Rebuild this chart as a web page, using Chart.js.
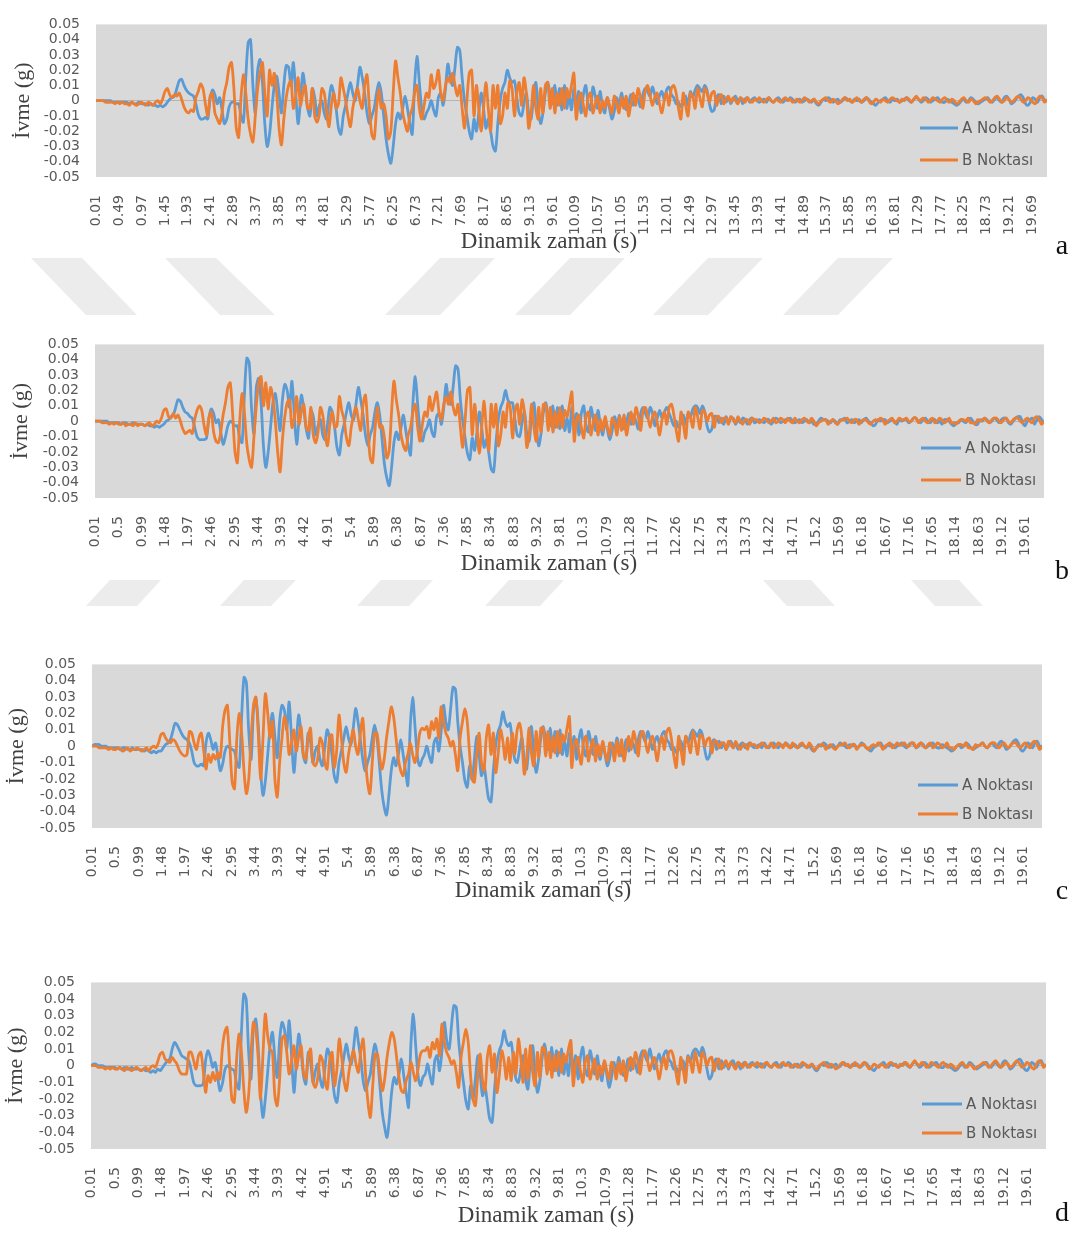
<!DOCTYPE html>
<html>
<head>
<meta charset="utf-8">
<script src="https://cdn.jsdelivr.net/npm/chart.js@4.4.1/dist/chart.umd.min.js"></script>
<style>
  html, body { margin:0; padding:0; background:#ffffff; }
  #page { position:relative; width:1078px; height:1233px; overflow:hidden; background:#fff; }
  #page canvas { position:absolute; left:0; display:block; }
  .xt { position:absolute; font-family:"Liberation Serif", "DejaVu Serif", serif; font-size:23px; color:#404040; white-space:nowrap; transform:translate(-50%,-50%); }
  .lt { position:absolute; font-family:"Liberation Serif", "DejaVu Serif", serif; font-size:28px; color:#111; transform:translate(-50%,-50%); }
  #wm { position:absolute; left:0; top:0; }
</style>
</head>
<body>
<div id="page">
<svg id="wm" width="1078" height="1233">
  <g fill="#ececec">
    <polygon points="31,258 82,258 137,315 86,315"/>
    <polygon points="165,258 216,258 275,315 220,315"/>
    <polygon points="440,258 495,258 440,315 385,315"/>
    <polygon points="570,258 625,258 570,315 515,315"/>
    <polygon points="708,258 763,258 708,315 653,315"/>
    <polygon points="838,258 893,258 838,315 783,315"/>
    <polygon points="110,580 161,580 137,606 86,606"/>
    <polygon points="244,580 296,580 271,606 220,606"/>
    <polygon points="381,580 433,580 409,606 357,606"/>
    <polygon points="509,580 564,580 540,606 485,606"/>
    <polygon points="763,580 811,580 835,606 787,606"/>
    <polygon points="911,580 959,580 983,606 935,606"/>
  </g>
</svg>
</div>
<script>
// ---------------- DATA (acceleration, in milli-g, one sample every 0.05 s from 0 s to 20 s) ----------------
const SAMPLE_STEP = 0.05;          // seconds between read-off samples
const MILLI = 1000;                // arrays are in 0.001 g

const seriesNames = ["A Noktası", "B Noktası"];
const xTitle = "Dinamik zaman (s)";
const yTitle = "İvme (g)";
const panelLetters = ["a", "b", "c", "d"];

const yTickValues = [-0.05, -0.04, -0.03, -0.02, -0.01, 0, 0.01, 0.02, 0.03, 0.04, 0.05];
const yTickLabels = ["-0.05", "-0.04", "-0.03", "-0.02", "-0.01", "0", "0.01", "0.02", "0.03", "0.04", "0.05"];

const xTickLabelsA = ["0.01","0.49","0.97","1.45","1.93","2.41","2.89","3.37","3.85","4.33","4.81","5.29","5.77","6.25","6.73","7.21","7.69","8.17","8.65","9.13","9.61","10.09","10.57","11.05","11.53","12.01","12.49","12.97","13.45","13.93","14.41","14.89","15.37","15.85","16.33","16.81","17.29","17.77","18.25","18.73","19.21","19.69"];
const xTickLabelsBCD = ["0.01","0.5","0.99","1.48","1.97","2.46","2.95","3.44","3.93","4.42","4.91","5.4","5.89","6.38","6.87","7.36","7.85","8.34","8.83","9.32","9.81","10.3","10.79","11.28","11.77","12.26","12.75","13.24","13.73","14.22","14.71","15.2","15.69","16.18","16.67","17.16","17.65","18.14","18.63","19.12","19.61"];

// Panel a
const panelA_A = [
0,0,0,0,0,0,0,-1,-1,-1,-1,-1,-1,-1,-2,-1,-2,-2,-1,-2,
-2,-2,-3,-2,-3,-3,-4,-3,-4,-3,-1,1,2,3,8,13,14,10,7,5,
4,3,-2,-9,-12,-12,-11,-12,1,7,4,-2,2,-6,-15,-12,-4,-1,-1,-2,
-2,-10,-14,15,38,40,10,-8,20,27,12,-15,-30,-22,-5,10,16,5,-8,10,
23,22,10,25,5,-15,0,18,8,-5,-10,8,2,-10,-3,0,-8,-12,0,10,
5,-5,-18,-22,-10,-3,5,12,5,0,10,22,15,5,-8,-15,-10,-5,5,12,
5,-10,-25,-35,-41,-30,-15,-8,-12,-5,3,-5,-15,-22,10,29,12,-5,-12,-8,
-5,0,-6,-10,2,5,-3,8,24,15,10,22,35,33,15,0,-10,-20,-25,-12,
-20,-8,5,-5,-18,-12,-20,-30,-33,-15,0,8,12,20,15,12,13,2,-8,-10,
-2,5,-8,-12,2,12,-5,-15,-8,5,12,4,-2,10,-3,8,-6,10,-5,3,
-6,8,-3,6,-8,4,10,-2,-6,9,3,-5,6,-3,-8,2,-5,-12,-7,2,
-4,5,-2,-6,-2,4,-3,3,1,-4,4,8,6,3,9,4,-2,3,6,1,
7,9,4,2,-2,-1,-4,-2,3,-3,6,2,7,10,8,6,10,7,-2,-7,
-6,2,4,-2,3,-1,2,-2,1,3,-1,2,-2,1,2,-1,1,2,0,-1,
0,1,-1,2,0,-1,1,2,0,-1,1,0,2,1,-1,0,1,-1,0,1,
0,-1,1,-2,-3,-1,1,0,2,1,-1,0,1,-1,0,2,1,0,-1,1,
0,1,-1,0,2,1,-1,-2,-3,-1,0,1,2,0,-1,1,0,1,-1,0,
1,2,0,-1,1,2,1,-1,0,2,1,-1,0,1,2,0,-1,-1,1,0,
-1,-2,-3,-2,0,1,-1,0,2,1,-1,-2,-1,0,1,2,0,-1,1,2,
0,-1,2,3,1,-2,-1,1,3,4,2,-2,-3,-1,2,1,-1,2,3,0,
0];
const panelA_B = [
0,0,0,0,-1,-1,-1,-1,-2,-1,-2,-1,-2,-2,-3,-1,-2,-3,-2,-1,
-2,-3,-1,-2,-3,-1,0,-2,1,6,8,4,2,4,3,5,1,-4,-7,-8,
-6,-7,2,6,11,8,-2,-10,3,5,-8,-12,-15,-8,5,12,22,25,8,-18,
-24,2,17,5,-12,-22,-27,-10,8,18,25,5,-10,20,10,18,5,-18,-29,-12,
2,10,13,-5,3,15,-3,5,10,-5,-5,8,-10,-14,-8,8,5,-8,-17,-3,
5,-5,-2,15,8,0,-10,-17,-5,3,8,0,-5,10,17,-5,-22,-25,-5,8,
-5,-2,-10,-25,-20,5,26,15,5,-8,-15,-20,-10,-5,5,10,-5,-12,-3,5,
2,17,8,12,20,5,0,10,15,12,18,10,3,10,-5,-18,0,18,20,-10,
10,-5,-20,-5,12,-5,-20,10,-5,10,-15,-10,5,-5,13,8,-10,5,12,-3,
15,5,-18,-8,10,-5,-12,8,-8,10,12,-5,8,-8,5,-3,8,-5,8,2,
10,18,-12,0,5,-3,-10,2,5,-8,-2,3,-8,0,-5,2,-3,-8,3,-2,
-8,2,-5,3,-10,-2,5,-3,8,2,-5,6,10,4,-3,2,5,-2,-8,0,
5,-3,8,10,5,-5,-12,5,-3,-10,5,3,-5,8,2,-4,8,5,-1,5,
6,-3,2,4,-2,1,3,-1,2,0,-2,2,1,-1,2,0,-1,1,0,2,
0,-1,1,2,0,-1,1,0,-1,1,2,0,1,-1,0,1,-1,0,2,1,
-1,0,1,-1,-2,0,1,2,0,-1,1,0,-2,-1,1,2,0,1,-1,0,
2,0,-1,1,2,0,-2,-1,1,0,-1,1,0,-1,1,2,1,0,-1,1,
0,2,1,-1,1,3,1,0,2,1,-1,0,2,1,0,-1,1,2,0,-1,
1,0,-2,-1,1,2,0,-1,1,0,-2,-1,0,1,2,1,-1,0,2,3,
1,-1,0,2,1,-1,0,2,3,1,-1,0,2,1,-1,-2,1,3,2,-1,
1];

// Panel b
const panelB_A = [
0,0,0,0,0,0,-1,-1,-1,-1,-1,-2,-1,-1,-2,-2,-1,-2,-2,-2,
-2,-3,-2,-3,-3,-4,-3,-4,-3,-2,0,1,3,4,9,14,13,9,6,5,
3,2,-4,-10,-12,-12,-12,-11,2,8,5,-1,1,-7,-15,-10,-3,0,-1,-3,
-3,-11,-14,18,41,38,8,-8,22,28,12,-16,-30,-20,-4,12,18,6,-6,14,
24,20,9,26,4,-15,2,17,8,-5,-11,7,3,-9,-3,1,-9,-12,-2,9,
6,-4,-17,-22,-9,-2,6,12,4,1,11,22,14,4,-9,-16,-9,-4,6,12,
4,-12,-28,-37,-42,-30,-14,-7,-12,-4,4,-6,-16,-22,12,29,11,-6,-13,-7,
-4,1,-7,-10,3,5,-2,9,24,14,11,23,36,34,14,0,-11,-21,-25,-11,
-19,-7,6,-4,-17,-12,-21,-31,-33,-14,1,9,13,20,14,12,12,1,-9,-10,
-1,6,-8,-13,3,12,-4,-16,-8,6,12,3,-3,10,-4,9,-5,10,-6,2,
-7,9,-2,5,-9,5,10,-3,-7,9,2,-6,7,-2,-9,1,-6,-12,-6,3,
-3,4,-3,-5,-1,5,-2,4,0,-5,5,9,5,2,9,5,-3,2,7,2,
6,9,5,1,-3,0,-4,-1,4,-2,5,3,8,10,9,5,10,6,-3,-7,
-5,3,3,-1,2,-2,3,-1,2,2,-2,1,-1,2,1,-2,1,2,-1,0,
1,0,-1,1,1,-2,0,2,1,-1,0,1,1,2,0,-1,0,1,-1,0,
1,-1,0,-2,-2,0,2,1,1,0,-1,1,0,-2,1,1,2,-1,0,1,
-1,0,1,-1,1,2,0,-1,-3,-2,1,0,1,1,-1,0,1,0,-2,1,
0,1,1,-1,0,2,2,0,-1,1,2,0,-1,1,1,-1,0,-2,1,1,
0,-2,-3,-1,-1,1,0,-1,1,2,0,-2,-2,1,0,2,1,-1,0,2,
1,-1,1,2,2,-1,-2,0,2,3,3,-1,-3,0,1,2,-2,1,3,1,
-1];
const panelB_B = [
0,0,0,-1,-1,-1,-2,-1,-2,-1,-2,-2,-1,-3,-2,-2,-3,-1,-3,-2,
-2,-3,-2,-1,-3,-2,0,-1,2,7,8,3,2,5,2,4,0,-5,-8,-7,
-6,-8,1,7,10,7,-3,-9,2,6,-7,-13,-14,-7,4,12,22,25,5,-20,
-27,0,18,5,-15,-25,-30,-10,10,25,29,10,25,8,22,15,0,-20,-33,-12,
3,12,14,-4,2,16,-2,6,11,-4,-6,9,-9,-14,-7,9,4,-9,-16,-2,
6,-4,-3,16,7,1,-11,-16,-4,4,9,1,-6,11,17,-4,-24,-27,-6,9,
-4,-3,-11,-24,-19,6,26,14,4,-9,-16,-19,-9,-4,6,11,-4,-13,-2,6,
3,16,7,13,19,6,1,11,16,11,19,9,4,11,-4,-17,1,20,22,-9,
11,-4,-21,-4,13,-6,-19,11,-4,11,-16,-9,6,-4,12,9,-11,6,11,-2,
14,6,-17,-9,11,-4,-13,9,-7,11,11,-6,9,-7,6,-4,9,-4,7,3,
11,19,-13,1,4,-4,-11,3,6,-9,-1,4,-9,1,-6,3,-4,-9,2,-1,
-9,3,-6,4,-9,-1,6,-2,9,3,-6,7,9,3,-4,3,6,-1,-9,1,
6,-2,9,11,4,-6,-13,6,-2,-11,6,2,-4,9,3,-5,7,6,0,4,
5,-4,3,3,-1,2,2,-2,3,1,-1,3,0,-2,1,1,-2,2,1,1,
-1,0,2,1,-1,0,2,-1,0,2,1,-1,2,0,-1,2,0,-1,1,2,
0,-1,2,0,-3,-1,0,1,1,-2,0,1,-1,-2,0,1,1,2,0,-1,
1,1,-2,0,1,1,-1,-2,0,1,0,2,1,-2,0,1,2,-1,0,2,
1,1,2,0,0,2,2,-1,1,2,0,-1,1,2,-1,0,2,1,-1,0,
2,-1,-1,-2,0,1,1,0,2,-1,-1,-2,1,0,1,2,0,-1,1,2,
2,0,-1,1,2,0,-1,1,2,2,0,-1,1,2,0,-1,2,3,1,-2,
0];

// Panel c
const panelC_A = [
0,1,1,1,0,0,0,-1,-1,-1,-1,-1,-2,-1,-1,-2,-2,-1,-2,-2,
-2,-2,-3,-2,-3,-4,-3,-4,-3,-3,-1,1,2,4,9,14,13,10,7,5,
4,2,-3,-10,-12,-12,-11,-12,2,8,4,-2,2,-6,-15,-11,-3,0,-1,-2,
-3,-10,-13,18,42,39,9,-8,22,29,13,-15,-30,-21,-5,11,20,6,-7,15,
25,22,10,27,5,-16,1,19,9,-6,-10,8,3,-10,-3,0,-8,-12,-1,10,
5,-5,-18,-22,-10,-3,5,12,5,1,11,23,15,4,-8,-15,-10,-5,5,13,
5,-11,-27,-37,-42,-30,-15,-7,-12,-5,4,-5,-15,-24,12,30,12,-6,-12,-8,
-5,0,-6,-10,2,5,-3,9,25,15,10,23,36,35,15,0,-10,-21,-25,-12,
-20,-8,6,-5,-18,-12,-22,-32,-34,-15,1,9,13,21,15,12,14,2,-8,-10,
-2,5,-8,-14,2,12,-5,-16,-8,5,12,4,-2,11,-3,9,-6,10,-5,3,
-6,8,-3,6,-8,4,10,-2,-6,9,3,-5,6,-3,-8,2,-5,-12,-7,2,
-4,5,-2,-6,-2,4,-3,3,1,-4,4,9,6,3,9,4,-2,3,6,1,
7,9,4,2,-2,-1,-4,-2,3,-3,6,2,7,10,8,6,10,7,-2,-8,
-6,2,4,-2,3,-1,2,-2,1,3,-1,2,-2,1,2,-1,1,2,0,-1,
0,1,-1,2,0,-1,1,2,0,-1,1,0,2,1,-1,0,1,-1,0,1,
0,-1,1,-2,-3,-1,1,0,2,1,-1,0,1,-1,0,2,1,0,-1,1,
0,1,-1,0,2,1,-1,-2,-3,-1,0,1,2,0,-1,1,0,1,-1,0,
1,2,0,-1,1,2,1,-1,0,2,1,-1,0,1,2,0,-1,-1,1,0,
-1,-2,-3,-2,0,1,-1,0,2,1,-1,-2,-1,0,1,2,0,-1,1,2,
0,-1,2,3,1,-2,-1,1,3,4,2,-2,-3,-1,2,1,-1,2,3,0,
0];
const panelC_B = [
0,0,0,-1,-1,-1,-1,-2,-1,-2,-2,-1,-2,-3,-2,-1,-3,-2,-2,-1,
-2,-3,-2,-1,-3,-1,0,-1,2,7,8,5,3,2,4,3,0,-3,-5,-6,
-5,9,8,2,-2,5,8,-2,-14,-5,-10,-5,-8,-4,-7,12,22,25,3,-22,
-26,5,20,8,-15,-29,-20,5,25,30,8,-20,5,32,20,5,15,-20,-31,-10,
5,18,12,-5,2,10,-3,5,12,-5,-8,5,11,-10,-12,-8,5,2,-10,-14,
5,7,-13,-3,19,5,-10,-16,-5,3,10,0,-5,8,17,-5,-22,-29,-10,8,
8,-5,-14,-8,5,15,24,18,5,-8,-15,-18,-10,-5,2,-5,-10,-3,8,11,
10,12,5,15,10,17,5,24,15,8,5,0,3,-5,-15,5,15,23,15,-5,
-20,-22,-5,8,-10,-15,5,13,-5,8,-16,-5,10,3,-8,5,-10,8,-5,10,
14,5,-17,-8,11,-4,-12,9,-7,11,11,-6,9,-7,6,-4,9,-4,7,3,
11,18,-13,1,4,-4,-11,3,6,-9,-1,4,-9,1,-6,3,-4,-9,2,-1,
-9,3,-6,4,-9,-1,6,-2,9,3,-6,7,9,3,-4,3,6,-1,-9,1,
6,-2,9,11,4,-6,-13,6,-2,-11,6,2,-4,9,3,-5,7,6,0,4,
5,-4,3,3,-1,2,2,-2,3,1,-1,3,0,-2,1,1,-2,2,1,1,
-1,0,2,1,-1,0,2,-1,0,2,1,-1,2,0,-1,2,0,-1,1,2,
0,-1,2,0,-3,-1,0,1,1,-2,0,1,-1,-2,0,1,1,2,0,-1,
1,1,-2,0,1,1,-1,-2,0,1,0,2,1,-2,0,1,2,-1,0,2,
1,1,2,0,0,2,2,-1,1,2,0,-1,1,2,-1,0,2,1,-1,0,
2,-1,-1,-2,0,1,1,0,2,-1,-1,-2,1,0,1,2,0,-1,1,2,
2,0,-1,1,2,0,-1,1,2,2,0,-1,1,2,0,-1,2,3,1,-2,
0];

// Panel d
const panelD_A = [
0,1,1,0,0,0,-1,-1,-1,-1,-1,-2,-1,-2,-1,-2,-2,-1,-2,-2,
-2,-3,-2,-3,-3,-4,-3,-4,-2,-3,-1,1,3,4,10,14,12,9,6,5,
4,3,-3,-10,-12,-12,-12,-11,3,9,5,-1,2,-6,-15,-11,-3,0,-1,-2,
-3,-11,-14,20,43,40,9,-8,22,28,12,-16,-31,-20,-4,12,20,5,-7,15,
26,22,10,27,6,-16,2,19,8,-6,-11,8,2,-10,-3,1,-8,-13,-1,10,
6,-5,-18,-22,-10,-3,6,13,5,1,11,23,14,4,-9,-15,-10,-5,6,13,
5,-12,-28,-37,-43,-31,-15,-7,-11,-5,4,-6,-16,-25,13,31,12,-6,-12,-7,
-5,1,-6,-11,3,6,-3,9,26,15,10,24,36,35,15,1,-10,-21,-26,-12,
-20,-8,6,-5,-18,-13,-22,-32,-34,-15,1,9,13,21,15,12,14,2,-8,-10,
-2,6,-8,-14,3,12,-5,-16,-9,5,13,4,-2,11,-3,9,-6,10,-5,3,
-6,9,-3,6,-8,5,11,-2,-6,9,3,-5,6,-3,-9,2,-5,-13,-7,2,
-4,5,-2,-6,-2,4,-3,4,1,-4,5,9,6,3,10,4,-2,3,7,1,
7,9,4,2,-2,-1,-4,-2,3,-3,6,2,8,10,9,6,11,7,-2,-8,
-6,2,4,-2,3,-1,2,-2,2,3,-1,2,-2,1,2,-1,1,2,0,-1,
1,1,-1,2,0,-1,1,2,0,-1,1,0,2,1,-1,0,1,-1,0,1,
0,-1,1,-2,-3,-1,1,0,2,1,-1,0,1,-1,0,2,1,0,-1,1,
0,1,-1,0,2,1,-1,-2,-3,-1,0,1,2,0,-1,1,0,1,-1,0,
1,2,0,-1,1,2,1,-1,0,2,1,-1,0,1,2,0,-1,-1,1,0,
-1,-2,-3,-2,0,1,-1,0,2,1,-1,-2,-1,0,1,2,0,-1,1,2,
0,-1,2,3,1,-2,-1,1,3,4,2,-2,-3,-1,2,1,-1,2,3,0,
0];
const panelD_B = [
0,0,0,-1,-1,-1,-2,-1,-2,-1,-2,-2,-1,-2,-3,-1,-2,-3,-2,-1,
-2,-3,-2,-1,-3,-1,0,-1,3,7,8,4,3,2,5,3,1,-3,-5,-5,
-5,8,8,3,-2,6,8,-3,-16,-6,-10,-4,-9,-4,-8,10,20,23,2,-20,
-22,4,19,8,-14,-28,-18,6,26,22,5,-20,6,31,18,10,8,-18,-24,-8,
16,18,8,-5,3,12,-2,6,12,-4,-8,5,10,-10,-13,-7,6,3,-9,-14,
4,8,-12,-2,16,5,-9,-15,-4,4,9,1,-4,9,16,-5,-22,-31,-12,7,
7,-5,-15,-8,5,14,20,16,5,-7,-15,-16,-9,-5,2,-4,-9,-2,7,9,
9,11,5,14,10,16,6,25,14,8,5,1,3,-4,-13,5,14,22,14,-6,
-20,-24,-6,7,-9,-15,5,12,-4,7,-16,-6,9,3,-8,5,-9,8,-5,16,
5,-10,10,-8,12,-4,-12,8,-7,11,10,-5,8,-7,6,-3,8,-4,7,2,
10,15,-12,1,5,-3,-10,2,6,-8,-2,4,-8,0,-5,3,-3,-8,2,-1,
-8,2,-5,3,-9,-1,5,-2,8,3,-5,6,9,4,-3,2,5,-1,-8,0,
5,-2,8,9,5,-4,-11,5,-2,-10,5,3,-4,8,2,-4,8,5,0,4,
5,-3,2,4,-2,1,3,-1,2,0,-2,2,1,-1,2,0,-1,1,0,2,
0,-1,1,2,0,-1,1,0,-1,1,2,0,1,-1,0,1,-1,0,2,1,
-1,0,1,-1,-2,0,1,2,0,-1,1,0,-2,-1,1,2,0,1,-1,0,
2,0,-1,1,2,0,-2,-1,1,0,-1,1,0,-1,1,2,1,0,-1,1,
0,2,1,-1,1,3,1,0,2,1,-1,0,2,1,0,-1,1,2,0,-1,
1,0,-2,-1,1,2,0,-1,1,0,-2,-1,0,1,2,1,-1,0,2,3,
1,-1,0,2,1,-1,0,2,3,1,-1,0,2,1,-1,-2,1,3,2,-1,
1];

// ---------------- LAYOUT (positions only) ----------------
const panels = [
  { seriesA: panelA_A, seriesB: panelA_B, ticks: xTickLabelsA,   top: 0,   h: 260, pl: 96, pt: 11, pr: 1047, pb: 177, yPad: 10, tx: 549, ty: 241,  ly: 245,  leg: [920, 958, 962, 128, 160] },
  { seriesA: panelB_A, seriesB: panelB_B, ticks: xTickLabelsBCD, top: 320, h: 260, pl: 95, pt: 12, pr: 1044, pb: 178, yPad: 8,  tx: 549, ty: 563,  ly: 570,  leg: [921, 961, 965, 128, 160] },
  { seriesA: panelC_A, seriesB: panelC_B, ticks: xTickLabelsBCD, top: 640, h: 265, pl: 92, pt: 11, pr: 1042, pb: 188, yPad: 4,  tx: 543, ty: 890,  ly: 890,  leg: [918, 958, 962, 145, 174] },
  { seriesA: panelD_A, seriesB: panelD_B, ticks: xTickLabelsBCD, top: 958, h: 270, pl: 91, pt: 11, pr: 1046, pb: 191, yPad: 3,  tx: 546, ty: 1215, ly: 1212, leg: [922, 962, 966, 146, 175] }
];

const plotBg = {
  id: 'plotBg',
  beforeDraw(chart) {
    const { ctx, chartArea: a } = chart;
    ctx.save();
    ctx.fillStyle = '#d9d9d9';
    ctx.fillRect(a.left, a.top, a.right - a.left, a.bottom - a.top);
    ctx.restore();
  }
};

const innerLegend = {
  id: 'innerLegend',
  afterDraw(chart, args, opts) {
    const { ctx } = chart;
    const [x0, x1, tx, y0, y1] = opts.pos;
    ctx.save();
    ctx.font = '15px "DejaVu Sans"';
    ctx.textBaseline = 'middle';
    ctx.textAlign = 'left';
    chart.data.datasets.forEach((ds, i) => {
      const y = i === 0 ? y0 : y1;
      ctx.strokeStyle = ds.borderColor;
      ctx.lineWidth = 2.8;
      ctx.beginPath(); ctx.moveTo(x0, y); ctx.lineTo(x1, y); ctx.stroke();
      ctx.fillStyle = '#595959';
      ctx.fillText(ds.label, tx, y + 1);
    });
    ctx.restore();
  }
};

const page = document.getElementById('page');

panels.forEach((P, pi) => {
  const canvas = document.createElement('canvas');
  canvas.width = 1078; canvas.height = P.h;
  canvas.style.top = P.top + 'px';
  canvas.style.width = '1078px'; canvas.style.height = P.h + 'px';
  page.appendChild(canvas);

  const tickValues = P.ticks.map(s => parseFloat(s));
  const toPoints = arr => arr.map((v, k) => ({ x: +(k * SAMPLE_STEP).toFixed(2), y: v / MILLI }));

  new Chart(canvas, {
    type: 'line',
    data: {
      datasets: [
        { label: seriesNames[0], data: toPoints(P.seriesA), borderColor: '#5b9bd5', borderWidth: 2.8, pointRadius: 0, tension: 0.3, order: 1, fill: false },
        { label: seriesNames[1], data: toPoints(P.seriesB), borderColor: '#ed7d31', borderWidth: 2.8, pointRadius: 0, tension: 0.3, order: 0, fill: false }
      ]
    },
    options: {
      responsive: false,
      animation: false,
      events: [],
      layout: { padding: { top: P.pt, right: 1078 - P.pr, left: 0, bottom: 0 } },
      plugins: {
        legend: { display: false },
        tooltip: { enabled: false },
        innerLegend: { pos: P.leg }
      },
      scales: {
        x: {
          type: 'linear', min: 0, max: 20,
          afterBuildTicks: s => { s.ticks = tickValues.map(v => ({ value: v })); },
          afterFit: s => { s.height = P.h - P.pb; },
          grid: { display: false },
          border: { display: false },
          ticks: {
            autoSkip: false, minRotation: 90, maxRotation: 90, padding: 10,
            font: { family: 'DejaVu Sans', size: 14 }, color: '#595959',
            callback: (v, k) => P.ticks[k]
          }
        },
        y: {
          min: -0.05, max: 0.05,
          afterBuildTicks: s => { s.ticks = yTickValues.map(v => ({ value: v })); },
          afterFit: s => { s.width = P.pl; },
          grid: { drawTicks: false, lineWidth: 1, color: c => (c.tick && c.tick.value === 0) ? '#b4b4b4' : 'rgba(0,0,0,0)' },
          border: { display: false },
          ticks: {
            autoSkip: false,
            padding: 16,
            font: { family: 'DejaVu Sans', size: 14 }, color: '#595959',
            callback: (v, k) => yTickLabels[k]
          },
          title: {
            display: true, text: yTitle, color: '#404040',
            font: { family: 'Liberation Serif', size: 22 },
            padding: { top: P.yPad, bottom: 0 }
          }
        }
      }
    },
    plugins: [plotBg, innerLegend]
  });

  const t = document.createElement('div');
  t.className = 'xt'; t.textContent = xTitle;
  t.style.left = P.tx + 'px'; t.style.top = P.ty + 'px';
  page.appendChild(t);

  const l = document.createElement('div');
  l.className = 'lt'; l.textContent = panelLetters[pi];
  l.style.left = '1062px'; l.style.top = P.ly + 'px';
  page.appendChild(l);
});
</script>
</body>
</html>
